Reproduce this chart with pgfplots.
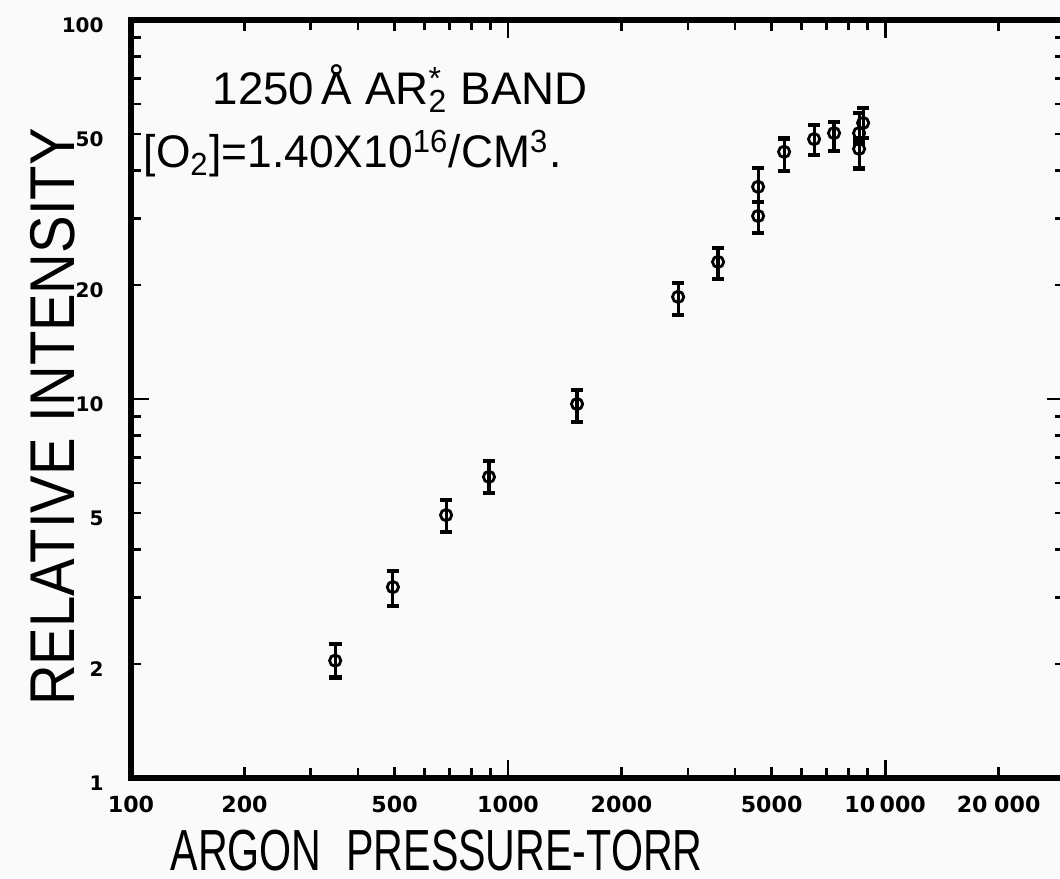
\documentclass[border=0pt]{standalone}
\usepackage{pgfplots}
\pgfplotsset{compat=1.18}
\usepackage{graphicx}
\usepackage{fontspec}
\setmainfont{Liberation Sans}
\newfontfamily\tickfont{DejaVu Sans}

\begin{document}
\begin{tikzpicture}
\fill[black!2] (-13.1mm,-10mm) rectangle (92.9mm,77.8mm);
\begin{axis}[
    xmode=log, ymode=log,
    scale only axis,
    width=93.4mm, height=75.8mm,
    xmin=100, xmax=30000,
    ymin=1, ymax=100,
    axis line style={line width=1.5pt},
    tick style={line width=0.8pt, black},
    major tick length=1.8mm,
    minor tick length=1mm,
    xtick={100,1000,10000},
    xticklabels={100,1000,10\hspace{0.2em}000},
    minor xtick={200,300,400,500,600,700,800,900,2000,3000,4000,5000,6000,7000,8000,9000,20000},
    extra x ticks={200,500,2000,5000,20000},
    extra x tick labels={200,500,2000,5000,20\hspace{0.3em}000},
    extra x tick style={major tick length=1.1mm},
    ytick={1,10,100},
    yticklabels={1,10,100},
    minor ytick={2,3,4,5,6,7,8,9,20,30,40,50,60,70,80,90},
    extra y ticks={2,5,20,50},
    extra y tick labels={2,5,20,50},
    extra y tick style={major tick length=1mm},
    xticklabel style={font=\tickfont\bfseries\fontsize{6.3}{6.3}\selectfont, yshift=-0.6mm},
    yticklabel style={font=\tickfont\bfseries\fontsize{5.7}{5.7}\selectfont, xshift=-1.5mm, yshift=-0.5mm},
    clip=false,
]

\addplot+[only marks, black, mark=o, mark size=1.6pt,
    mark options={fill=white, line width=0.8pt},
    error bars/.cd, y dir=both, y explicit,
    error bar style={line width=0.9pt},
    error mark options={rotate=90, mark size=1.8pt, line width=1.3pt}]
    coordinates {
    (348,2.04) += (0,0.22) -= (0,0.20)
    (495,3.19) += (0,0.33) -= (0,0.35)
    (685,4.94) += (0,0.47) -= (0,0.48)
    (890,6.23) += (0,0.63) -= (0,0.58)
    (1524,9.70) += (0,0.86) -= (0,1.00)
    (2825,18.6) += (0,1.65) -= (0,1.94)
    (3606,23.0) += (0,2.04) -= (0,2.25)
    (4604,36.3) += (0,4.4) -= (0,3.2)
    (4604,30.4) += (0,2.7) -= (0,2.97)
    (5397,44.9) += (0,3.7) -= (0,4.9)
    (6482,48.5) += (0,4.3) -= (0,4.5)
    (7322,50.3) += (0,3.5) -= (0,5.2)
    (8531,50.3) += (0,6.5) -= (0,3.0)
    (8531,45.7) += (0,3.0) -= (0,5.2)
    (8743,53.5) += (0,5.1) -= (0,4.7)
    };

\node[anchor=base west, inner sep=0pt, font=\fontsize{13}{13}\selectfont] at (axis cs:164,59.7)
    {1250\,Å AR\rlap{\textsuperscript{*}}\textsubscript{2} BAND};
\node[anchor=base west, inner sep=0pt, font=\fontsize{13}{13}\selectfont] at (axis cs:107.6,40.7)
    {\scalebox{0.97}[1]{[O\textsubscript{2}]=1.40X10\textsuperscript{16}/CM\textsuperscript{3}.}};
\node[anchor=base west, inner sep=0pt, font=\fontsize{16.5}{16.5}\selectfont] at (axis cs:126.9,0.571)
    {\scalebox{0.71}[1]{ARGON\hspace{0.6em}PRESSURE-TORR}};
\node[rotate=90, anchor=base, inner sep=0pt, font=\fontsize{18}{18}\selectfont] at (axis cs:71,8.96)
    {\scalebox{0.89}[1]{RELATIVE INTENSITY}};
\end{axis}
\pgfresetboundingbox
\useasboundingbox (-13.1mm,-10mm) rectangle (92.9mm,77.8mm);
\end{tikzpicture}
\end{document}
